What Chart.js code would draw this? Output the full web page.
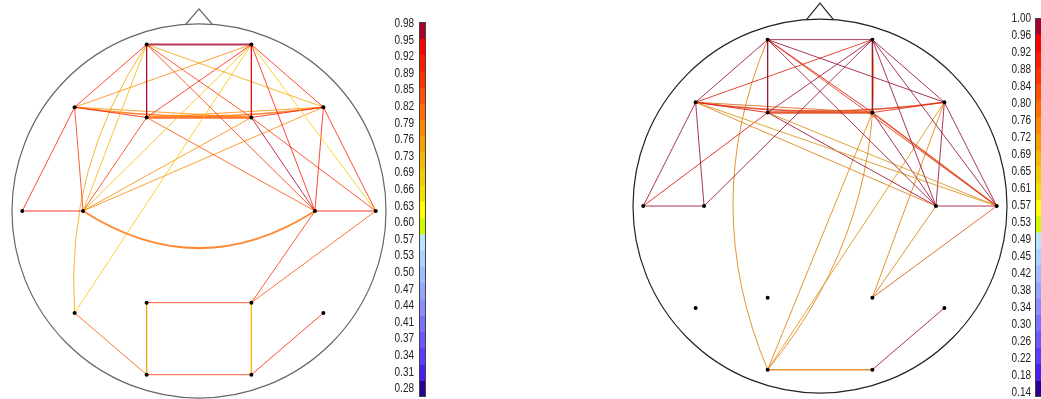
<!DOCTYPE html>
<html>
<head>
<meta charset="utf-8">
<script src="https://cdn.jsdelivr.net/npm/chart.js@4.4.1/dist/chart.umd.min.js"></script>
<style>
  body { margin: 0; background: #fff; width: 1041px; height: 399px; overflow: hidden; position: relative; }
  canvas { position: absolute; top: 0; }
</style>
</head>
<body>
<canvas id="head-left" width="398" height="399" style="left:0"></canvas>
<canvas id="bar-left" width="43" height="399" style="left:383px"></canvas>
<canvas id="head-right" width="380" height="399" style="left:630px"></canvas>
<canvas id="bar-right" width="50" height="399" style="left:997px"></canvas>
<script>
// electrode layout (unit head radius)
const electrodes = ['Fp1', 'Fp2', 'F7', 'F3', 'F4', 'F8', 'T3', 'C3', 'C4', 'T4', 'T5', 'P3', 'P4', 'T6', 'O1', 'O2'];
const electrodeX = [-0.28, 0.28, -0.665, -0.28, 0.28, 0.665, -0.945, -0.62, 0.62, 0.945, -0.665, -0.28, 0.28, 0.665, -0.28, 0.28];
const electrodeY = [0.89, 0.89, 0.555, 0.50, 0.50, 0.555, 0, 0, 0, 0, -0.545, -0.49, -0.49, -0.545, -0.875, -0.875];

// colour scale, top band first
const colorBands = [
    '#a8002c', '#ff0000', '#ff1a00', '#ff3300', '#ff5000', '#ff6c00', '#ff8800', '#f8a000',
    '#f5b800', '#f2cc00', '#f2e000', '#ffff00', '#d0fa00',
    '#b8e6ff', '#a8d2ff', '#a0bcff', '#94a4ff', '#8a8cff', '#7c70ff', '#6c58ff', '#5c3cff', '#4a1ef0', '#2c0096'
];
const leftTicks = ['0.98', '0.95', '0.92', '0.89', '0.85', '0.82', '0.79', '0.76', '0.73', '0.69', '0.66', '0.63',
    '0.60', '0.57', '0.53', '0.50', '0.47', '0.44', '0.41', '0.37', '0.34', '0.31', '0.28'];
const rightTicks = ['1.00', '0.96', '0.92', '0.88', '0.84', '0.80', '0.76', '0.72', '0.69', '0.65', '0.61', '0.57',
    '0.53', '0.49', '0.45', '0.42', '0.38', '0.34', '0.30', '0.26', '0.22', '0.18', '0.14'];

// connections: [from, to, strength]
const leftLinks = [
    ['Fp1', 'Fp2', 0.97], ['Fp1', 'F3', 0.97], ['Fp2', 'F4', 0.96], ['Fp1', 'F7', 0.93], ['Fp2', 'F8', 0.93],
    ['Fp1', 'F8', 0.76], ['Fp2', 'F7', 0.80], ['Fp1', 'F4', 0.90], ['Fp2', 'F3', 0.93], ['Fp1', 'C4', 0.88],
    ['Fp1', 'C3', 0.74], ['Fp2', 'C3', 0.72], ['Fp2', 'C4', 0.92], ['Fp2', 'T4', 0.70], ['Fp2', 'T5', 0.69],
    ['Fp1', 'T5', 0.75], ['F7', 'T3', 0.91], ['F7', 'C3', 0.88], ['F7', 'F3', 0.93], ['F4', 'F8', 0.93],
    ['F7', 'F4', 0.78], ['F3', 'F8', 0.78], ['F7', 'F8', 0.82], ['F3', 'F4', 0.84], ['F3', 'C3', 0.88],
    ['F3', 'C4', 0.86], ['F4', 'C3', 0.79], ['F4', 'C4', 0.97], ['F4', 'T4', 0.87], ['F8', 'C4', 0.93],
    ['F8', 'T4', 0.92], ['F8', 'C3', 0.80], ['T3', 'C3', 0.94], ['C4', 'T4', 0.94], ['C3', 'C4', 0.82],
    ['C4', 'P4', 0.87], ['T4', 'P4', 0.84], ['P3', 'P4', 0.90], ['P3', 'O1', 0.76], ['P4', 'O2', 0.74],
    ['O1', 'O2', 0.90], ['T5', 'O1', 0.86], ['O2', 'T6', 0.91]
];
const rightLinks = [
    ['Fp1', 'Fp2', 0.99], ['Fp1', 'F3', 0.99], ['Fp2', 'F4', 0.99], ['Fp1', 'F7', 0.99], ['Fp2', 'F8', 0.99],
    ['Fp1', 'F8', 0.99], ['Fp2', 'F7', 0.93], ['Fp1', 'F4', 0.97], ['Fp2', 'F3', 0.99], ['Fp1', 'C4', 0.99],
    ['Fp1', 'T4', 0.90], ['Fp2', 'C4', 0.99], ['Fp2', 'T4', 0.99], ['Fp2', 'C3', 0.99], ['Fp1', 'O1', 0.75],
    ['Fp2', 'O1', 0.75], ['F7', 'T3', 0.99], ['F7', 'C3', 0.99], ['F7', 'F3', 0.97], ['F7', 'F8', 0.88],
    ['F7', 'F4', 0.80], ['F7', 'C4', 0.75], ['F7', 'T4', 0.73], ['F3', 'F4', 0.90], ['F3', 'C4', 0.99],
    ['F3', 'T4', 0.73], ['F3', 'T3', 0.97], ['T3', 'C3', 0.99], ['F4', 'C4', 0.99], ['F4', 'T4', 0.90],
    ['F4', 'F8', 0.93], ['F4', 'O1', 0.75], ['F8', 'C4', 0.99], ['F8', 'T4', 0.99], ['F8', 'O1', 0.73],
    ['F8', 'P4', 0.75], ['C4', 'T4', 0.99], ['C4', 'P4', 0.75], ['T4', 'P4', 0.86], ['O1', 'O2', 0.75],
    ['O2', 'T6', 0.99]
];

// styling of a few links: bow of curved ones, wider strokes
const leftCurved = { 'C3-C4': -0.16, 'Fp1-T5': -0.085, 'F7-F8': -0.035 };
const rightCurved = { 'Fp1-O1': -0.105, 'Fp2-O1': 0.1, 'F7-F8': -0.035 };
const leftWide = { 'Fp1-Fp2': 2, 'F3-F4': 2.5, 'C3-C4': 2, 'F7-F8': 1.5 };
const rightWide = { 'F3-F4': 2.5, 'F7-F8': 1.5, 'O1-O2': 1.5, 'F4-T4': 1.5 };

const labelFont = { family: "'Liberation Sans', Arial, sans-serif", size: 12.5 };

// rgba string, optionally pulled towards grey
function lineColor(hex, a, mute) {
    const n = parseInt(hex.slice(1), 16);
    const mix = c => Math.round(c + (100 - c) * mute);
    return `rgba(${mix(n >> 16)}, ${mix((n >> 8) & 255)}, ${mix(n & 255)}, ${a})`;
}

function colorFor(v, ticks) {
    const hi = parseFloat(ticks[0]);
    const lo = parseFloat(ticks[ticks.length - 1]);
    const i = Math.round((hi - v) / (hi - lo) * (colorBands.length - 1));
    return colorBands[Math.max(0, Math.min(colorBands.length - 1, i))];
}

function drawHead(id, links, ticks, curved, wide, view, style) {
    const pos = name => {
        const i = electrodes.indexOf(name);
        return { x: electrodeX[i], y: electrodeY[i] };
    };

    const datasets = [{
        type: 'scatter',
        data: electrodes.map((_, i) => ({ x: electrodeX[i], y: electrodeY[i] })),
        pointRadius: 2,
        pointBackgroundColor: '#000',
        pointBorderWidth: 0
    }];
    const arcs = [];

    links.forEach(([a, b, v]) => {
        const p = pos(a);
        const q = pos(b);
        const key = a + '-' + b;
        const color = lineColor(colorFor(v, ticks), style.alpha, style.mute);
        const width = wide[key] || 1;
        if (curved[key] !== undefined) {
            // quadratic control point, so the curve peaks at bow * chord length off the middle
            const k = 2 * curved[key];
            arcs.push({ p, q, color, width,
                c: { x: (p.x + q.x) / 2 - k * (q.y - p.y), y: (p.y + q.y) / 2 + k * (q.x - p.x) } });
            return;
        }
        datasets.push({
            type: 'line',
            data: [p, q],
            borderColor: color,
            borderWidth: width,
            pointRadius: 0,
            tension: 0,
            fill: false
        });
    });

    const headOutline = {
        id: 'headOutline',
        beforeDatasetsDraw(chart) {
            const { ctx, scales: { x, y } } = chart;
            const cx = x.getPixelForValue(0);
            const cy = y.getPixelForValue(0);
            const r = x.getPixelForValue(1) - cx;
            ctx.save();
            ctx.strokeStyle = style.outline;
            ctx.lineWidth = 1.2;
            ctx.beginPath();
            ctx.arc(cx, cy, r, 0, Math.PI * 2);
            ctx.stroke();
            ctx.beginPath();
            ctx.moveTo(x.getPixelForValue(-0.072), y.getPixelForValue(0.997));
            ctx.lineTo(x.getPixelForValue(0), y.getPixelForValue(style.noseTip));
            ctx.lineTo(x.getPixelForValue(0.072), y.getPixelForValue(0.997));
            ctx.stroke();

            arcs.forEach(a => {
                ctx.strokeStyle = a.color;
                ctx.lineWidth = a.width;
                ctx.beginPath();
                ctx.moveTo(x.getPixelForValue(a.p.x), y.getPixelForValue(a.p.y));
                ctx.quadraticCurveTo(x.getPixelForValue(a.c.x), y.getPixelForValue(a.c.y),
                    x.getPixelForValue(a.q.x), y.getPixelForValue(a.q.y));
                ctx.stroke();
            });
            ctx.restore();
        }
    };

    new Chart(document.getElementById(id), {
        type: 'scatter',
        data: { datasets },
        options: {
            responsive: false,
            animation: false,
            events: [],
            layout: { padding: 0, autoPadding: false },
            scales: {
                x: { type: 'linear', min: view.x[0], max: view.x[1], display: false },
                y: { type: 'linear', min: view.y[0], max: view.y[1], display: false }
            },
            plugins: { legend: { display: false }, tooltip: { enabled: false } }
        },
        plugins: [headOutline]
    });
}

function drawBar(id, ticks, tickPos, axisWidth, padTop, padBottom, padLabel) {
    // narrow the tick labels towards their right edge, like a condensed face
    const squeeze = 0.8;
    const narrowLabels = {
        id: 'narrowLabels',
        beforeDraw(chart) {
            const anchor = chart.chartArea.left - padLabel;
            chart.ctx.save();
            chart.ctx.setTransform(squeeze, 0, 0, 1, (1 - squeeze) * anchor, 0);
        },
        beforeDatasetsDraw(chart) {
            chart.ctx.restore();
        },
        afterDatasetsDraw(chart) {
            const { ctx, chartArea: a } = chart;
            ctx.save();
            ctx.strokeStyle = '#444';
            ctx.lineWidth = 1;
            ctx.strokeRect(a.left + 0.5, a.top + 0.5, a.right - a.left - 1, a.bottom - a.top - 1);
            ctx.restore();
        }
    };

    new Chart(document.getElementById(id), {
        type: 'bar',
        data: {
            labels: [''],
            datasets: colorBands.map(c => ({
                data: [1],
                backgroundColor: c,
                borderWidth: 0,
                barPercentage: 1,
                categoryPercentage: 1
            }))
        },
        options: {
            responsive: false,
            animation: false,
            events: [],
            layout: { padding: { top: padTop, bottom: padBottom, left: 0, right: 0 } },
            scales: {
                x: { display: false, stacked: true },
                y: {
                    stacked: true,
                    min: 0,
                    max: colorBands.length,
                    reverse: true,
                    position: 'left',
                    grid: { display: false, drawTicks: false },
                    border: { display: false },
                    afterBuildTicks: ax => { ax.ticks = ticks.map((_, i) => ({ value: tickPos(i) })); },
                    afterFit: ax => {
                        ax.width = axisWidth;
                        ax.paddingTop = 0;
                        ax.paddingBottom = 0;
                    },
                    ticks: {
                        autoSkip: false,
                        padding: padLabel,
                        color: '#222',
                        font: labelFont,
                        callback: (v, i) => ticks[i]
                    }
                }
            },
            plugins: { legend: { display: false }, tooltip: { enabled: false } }
        },
        plugins: [narrowLabels]
    });
}

drawHead('head-left', leftLinks, leftTicks, leftCurved, leftWide,
    { x: [-1.064, 1.064], y: [-1.005, 1.128] },
    { alpha: 0.8, mute: 0, outline: '#666', noseTip: 1.08 });
drawHead('head-right', rightLinks, rightTicks, rightCurved, rightWide,
    { x: [-1.016, 1.016], y: [-1.032, 1.102] },
    { alpha: 0.85, mute: 0.2, outline: '#222', noseTip: 1.085 });

drawBar('bar-left', leftTicks, i => 0.1 + i * 1.018, 36, 22, 2, 5);
drawBar('bar-right', rightTicks, i => 0.06 + i * 1.03, 38, 18, 2, 4);
</script>
</body>
</html>
